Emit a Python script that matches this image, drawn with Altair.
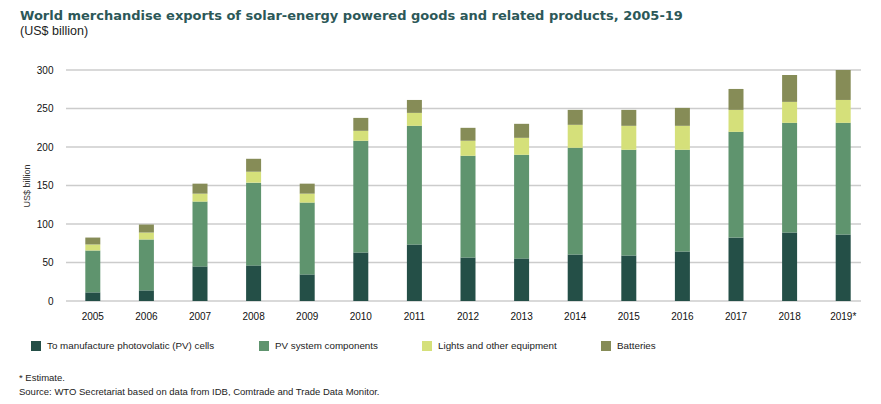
import altair as alt
import pandas as pd

years = ["2005", "2006", "2007", "2008", "2009", "2010", "2011", "2012",
         "2013", "2014", "2015", "2016", "2017", "2018", "2019*"]
series = ["To manufacture photovolatic (PV) cells", "PV system components",
          "Lights and other equipment", "Batteries"]
cells = [11.2, 13.8, 44.9, 46.2, 34.5, 63.0, 73.4, 56.5, 55.3, 60.4, 59.1, 64.3, 82.4, 88.9, 86.3]
components = [54.4, 66.1, 84.2, 107.5, 93.3, 145.1, 154.1, 132.1, 134.6, 138.6, 137.3, 132.1, 137.3, 142.5, 145.1]
lights = [7.8, 9.0, 10.3, 14.2, 11.6, 12.9, 16.8, 19.5, 22.0, 29.8, 31.1, 31.1, 28.5, 27.2, 29.7]
batteries = [9.0, 10.4, 13.0, 16.8, 13.0, 16.8, 16.8, 16.8, 18.2, 19.4, 20.7, 23.3, 27.2, 34.9, 38.9]
colors = ["#244f47", "#5f946e", "#d5e07a", "#868c57"]
y_ticks = [0, 50, 100, 150, 200, 250, 300]

title_text = "World merchandise exports of solar-energy powered goods and related products, 2005-19"
subtitle_text = "(US$ billion)"
note_text = "* Estimate."
source_text = "Source: WTO Secretariat based on data from IDB, Comtrade and Trade Data Monitor."

rows = []
for vals, name, k in zip([cells, components, lights, batteries], series, range(4)):
    for yr, v in zip(years, vals):
        rows.append({"year": yr, "series": name, "value": v, "order": k})
df = pd.DataFrame(rows)

FONT = "Liberation Sans"

y_axis = alt.Axis(title="US$ billion", values=y_ticks, grid=False,
                  ticks=False, domain=False, labelPadding=13,
                  labelOverlap=False,
                  labelFont=FONT, labelFontSize=10, labelColor="#111111",
                  titleFont=FONT, titleFontSize=9,
                  titleFontWeight="normal", titleColor="#333333",
                  titlePadding=5)

grid = alt.Chart(pd.DataFrame({"v": y_ticks})).mark_rule(
    color="#cccccc", strokeWidth=1.3
).encode(
    y=alt.Y("v:Q", scale=alt.Scale(domain=[0, 300], nice=False), axis=y_axis),
    x=alt.value(0),
    x2=alt.value(795),
)

bars = alt.Chart(df).mark_bar(width=15).encode(
    x=alt.X("year:N", sort=years,
            scale=alt.Scale(paddingInner=0.72, paddingOuter=0.36),
            axis=alt.Axis(title=None, labelAngle=0, ticks=False, domain=False,
                          labelPadding=10, labelFont=FONT, labelFontSize=10,
                          labelColor="#111111", grid=False, labelOverlap=False)),
    y=alt.Y("value:Q", stack="zero",
            scale=alt.Scale(domain=[0, 300], nice=False), axis=y_axis),
    color=alt.Color("series:N",
                    scale=alt.Scale(domain=series, range=colors),
                    legend=alt.Legend(title=None, orient="none", direction="horizontal",
                                      legendX=-35, legendY=271, padding=0,
                                      symbolType="square", symbolSize=100,
                                      symbolStrokeWidth=0, labelOffset=6,
                                      columnPadding=44, labelFont=FONT,
                                      labelLimit=500,
                                      labelFontSize=9.8, labelColor="#222222")),
    order=alt.Order("order:Q", sort="ascending"),
)

def text_layer(txt, x, y, size, weight="normal", color="#222222", font=FONT):
    return alt.Chart(pd.DataFrame({"t": [txt]})).mark_text(
        align="left", baseline="alphabetic", x=x, y=y, fontSize=size,
        fontWeight=weight, color=color, font=font
    ).encode(text="t:N")

title = text_layer(title_text, -46, -50, 13, "bold", "#2c5858", "DejaVu Sans")
subtitle = text_layer(subtitle_text, -46, -35, 12.5, "normal", "#222222")
note = text_layer(note_text, -47, 311, 9.5)
source = text_layer(source_text, -47, 325, 9.5)

chart = alt.layer(grid, bars, title, subtitle, note, source).properties(
    width=804, height=231,
    autosize=alt.AutoSizeParams(type="none"),
    padding={"left": 58, "top": 62, "right": 3, "bottom": 95},
    background="white",
).configure_view(stroke=None)

chart.save("out.html", embed_options={"renderer": "svg", "actions": False})
